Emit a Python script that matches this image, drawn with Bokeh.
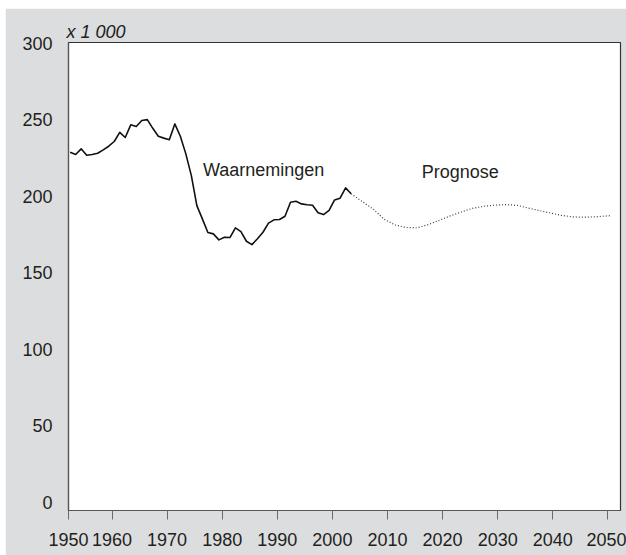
from bokeh.plotting import figure
from bokeh.models import FixedTicker, Range1d, Label, ColumnDataSource, Spacer
from bokeh.layouts import column, row
from bokeh.embed import file_html
from bokeh.resources import INLINE

# ---- data (values x 1 000) ----
years_obs = list(range(1952, 2004))
values_obs = [
    228.8, 227.3, 231.0, 226.8, 227.3, 228.1, 230.3, 232.7, 235.8, 241.8,
    238.4, 246.7, 245.6, 249.5, 250.1, 244.4, 239.2, 238.0, 236.9, 247.3,
    239.2, 227.7, 213.5, 193.9, 185.2, 176.3, 175.4, 171.5, 173.2, 173.0,
    179.3, 176.9, 170.6, 168.4, 172.2, 176.5, 182.4, 184.6, 184.8, 186.9,
    196.1, 196.7, 195.0, 194.4, 194.1, 189.2, 188.0, 190.7, 197.6, 198.7,
    205.5, 201.6,
]
years_fc = [2003, 2005, 2007, 2009, 2011, 2013, 2015, 2017, 2019, 2021,
            2023, 2025, 2027, 2029, 2031, 2033, 2035, 2037, 2039, 2041,
            2043, 2045, 2047, 2049, 2050]
values_fc = [201.6, 196.6, 191.6, 185.0, 181.2, 179.6, 179.4, 181.5, 184.3, 187.2,
             189.7, 192.1, 193.4, 194.2, 194.5, 194.2, 192.4, 190.8, 189.2, 187.6,
             186.6, 186.3, 186.5, 187.0, 187.3]

X_START = 1952.1
x_ticks = [X_START, 1960, 1970, 1980, 1990, 2000, 2010, 2020, 2030, 2040, 2050]
x_tick_labels = ["1950", "1960", "1970", "1980", "1990", "2000",
                 "2010", "2020", "2030", "2040", "2050"]
y_ticks = [0, 50, 100, 150, 200, 250, 300]
unit_label = "x 1 000"
series_labels = ["Waarnemingen", "Prognose"]

MID_YEAR = 0.4  # values plotted within the year

FONT = "Liberation Sans"
TXT = "#231f20"

src_obs = ColumnDataSource(dict(x=[y + MID_YEAR for y in years_obs], y=values_obs))
src_fc = ColumnDataSource(dict(x=[y + MID_YEAR for y in years_fc], y=values_fc))

fig = figure(width=621, height=547, output_backend="svg", toolbar_location=None,
             x_range=Range1d(X_START, 2052.3), y_range=Range1d(-5.4, 300.5),
             min_border_left=63, min_border_right=6, min_border_top=34,
             min_border_bottom=45, title=unit_label)

fig.background_fill_color = "white"
fig.border_fill_color = "#dcdddf"
fig.outline_line_color = "#333333"
fig.outline_line_width = 1.2
fig.xgrid.visible = False
fig.ygrid.visible = False

fig.title.text_font = FONT
fig.title.text_font_size = "18px"
fig.title.text_font_style = "italic"
fig.title.text_color = TXT
fig.title.align = "left"
fig.title.standoff = 2
fig.title.offset = -2

# x axis
xa = fig.xaxis[0]
xa.ticker = FixedTicker(ticks=x_ticks)
xa.major_label_overrides = {t: l for t, l in zip(x_ticks, x_tick_labels)}
xa.major_tick_out = 9
xa.major_tick_in = 0
xa.minor_tick_line_color = None
xa.major_tick_line_color = "#6a6a6a"
xa.axis_line_color = "#555555"
xa.axis_line_width = 1.2
xa.major_label_standoff = 13
xa.major_label_text_font = FONT
xa.major_label_text_font_size = "18px"
xa.major_label_text_color = TXT

# y axis
ya = fig.yaxis[0]
ya.ticker = FixedTicker(ticks=y_ticks)
ya.major_tick_out = 0
ya.major_tick_in = 0
ya.major_tick_line_color = None
ya.minor_tick_line_color = None
ya.axis_line_color = "#555555"
ya.axis_line_width = 1.2
ya.major_label_standoff = 16
ya.major_label_text_font = FONT
ya.major_label_text_font_size = "18px"
ya.major_label_text_color = TXT

fig.line("x", "y", source=src_obs, line_color="#111111", line_width=1.6,
         line_join="round")
fig.line("x", "y", source=src_fc, line_color="#3a3a3a", line_width=1.2,
         line_dash="1 2")

fig.add_layout(Label(x=1976.5, y=217.3, text=series_labels[0], text_font=FONT,
                     text_font_size="18px", text_color=TXT,
                     text_baseline="alphabetic"))
fig.add_layout(Label(x=2016.2, y=215.7, text=series_labels[1], text_font=FONT,
                     text_font_size="18px", text_color=TXT,
                     text_baseline="alphabetic"))

p = column(Spacer(height=8, width=626),
           row(Spacer(width=5, height=547), fig, spacing=0), spacing=0)

open("out.html", "w").write(file_html(p, INLINE))
